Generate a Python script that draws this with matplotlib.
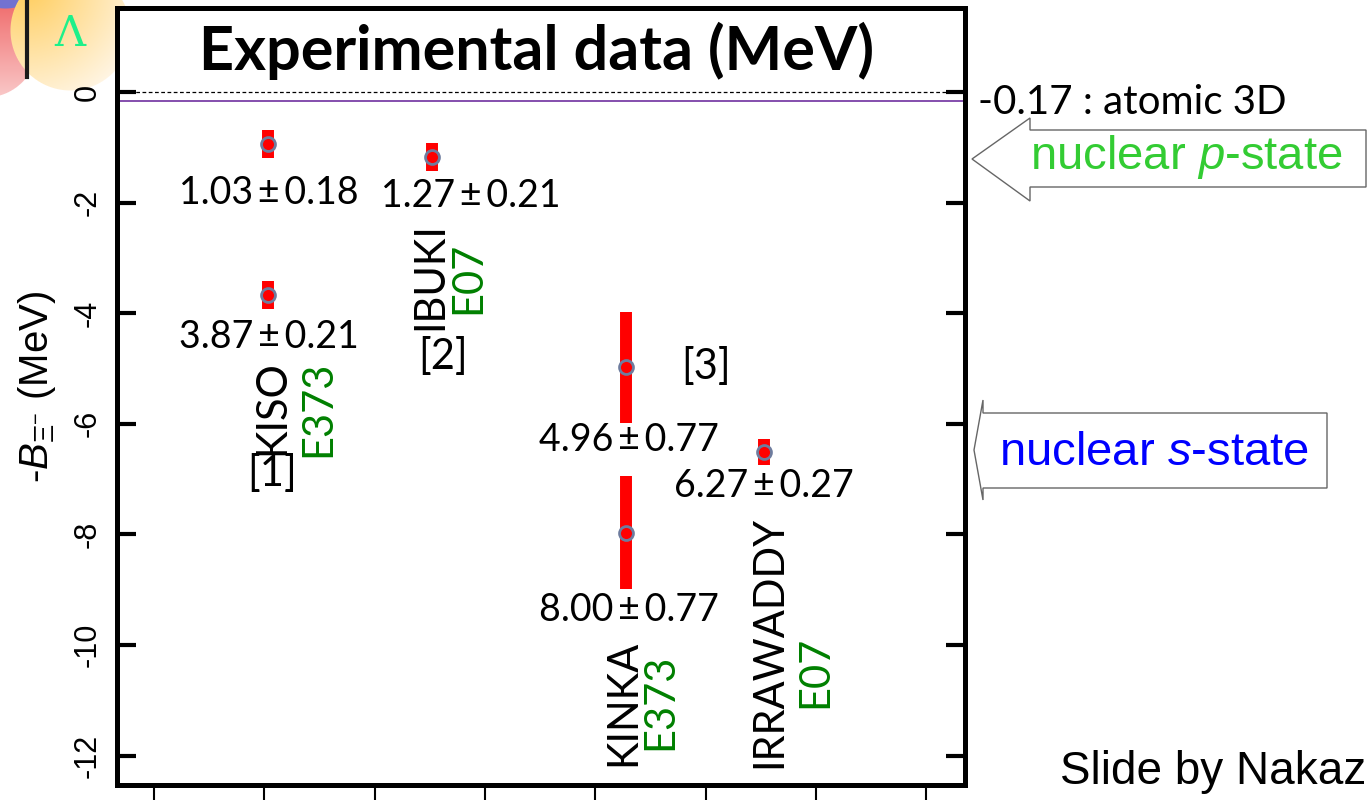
import matplotlib
matplotlib.use("Agg")
import matplotlib.pyplot as plt
from matplotlib.patches import Polygon
import numpy as np

plt.rcParams['axes.unicode_minus'] = False
plt.rcParams['mathtext.fontset'] = 'custom'
plt.rcParams['mathtext.rm'] = 'Liberation Sans'
plt.rcParams['mathtext.it'] = 'Liberation Sans:italic'

# ---- data ----
names = ["KISO", "KISO", "IBUKI", "KINKA", "KINKA", "IRRAWADDY"]
x_pos = [1.03, 1.03, 2.52, 4.28, 4.28, 5.53]
y_val = [-0.94, -3.67, -1.18, -4.98, -7.97, -6.51]
y_err = [0.25, 0.25, 0.25, 1.0, 1.02, 0.24]
value_labels = ["1.03\u2009\u00b1\u20090.18", "3.87\u2009\u00b1\u20090.21",
                "1.27\u2009\u00b1\u20090.21", "4.96\u2009\u00b1\u20090.77",
                "8.00\u2009\u00b1\u20090.77", "6.27\u2009\u00b1\u20090.27"]
label_xy = [(1.04, -1.83), (1.04, -4.43), (2.87, -1.88),
            (4.30, -6.29), (4.30, -9.37), (5.53, -7.12)]
y_ticks = [0, -2, -4, -6, -8, -10, -12]
x_ticks = [0, 1, 2, 3, 4, 5, 6, 7]
atomic_level = -0.17

W, H = 1370, 802
fig = plt.figure(figsize=(W / 100, H / 100), dpi=100)


def fx(px):
    return px / W


def fy(py):
    return 1 - py / H


# --- slide decoration in the top-left corner (background image) ---
dh, dw = 100, 140
yy, xx = np.mgrid[0:dh, 0:dw].astype(float)
img = np.ones((dh, dw, 3))


def paint(cx, cy, r, col):
    d = np.hypot(xx - cx, yy - cy)
    a = np.clip(r - d + 0.5, 0, 1)[..., None]
    return img * (1 - a) + col * a


t_red = np.clip(yy / 100.0, 0, 1)[..., None]
red = np.array([0.94, 0.42, 0.42]) * (1 - t_red) + np.array([0.98, 0.80, 0.80]) * t_red
img = paint(-15, 45, 52, red)
img = paint(5, -38, 46, np.array([0.45, 0.45, 0.82]))
t_y = np.clip(np.hypot(xx - 25, yy + 15) / 130.0, 0, 1)[..., None]
yel = np.array([1.0, 0.80, 0.35]) * (1 - t_y) + np.array([1.0, 0.97, 0.92]) * t_y
img = paint(70, 30, 60, yel)
fig.figimage(img, xo=0, yo=H - dh, origin='upper', zorder=-1)

fig.lines.append(plt.Line2D([fx(27), fx(27)], [fy(0), fy(77)], transform=fig.transFigure,
                            color='#1a1a1a', lw=3))
fig.text(fx(70), fy(34), "\u039b", color='#1EF08A', fontsize=31,
         family='DejaVu Serif', ha='center', va='center')

ax = fig.add_axes([fx(117), fy(785), fx(965) - fx(117), fy(8) - fy(785)])
ax.set_xlim(-0.335, 7.35)
ax.set_ylim(-12.53, 1.52)

ax.axhline(0, color='black', lw=0.9, ls=(0, (3, 2)), zorder=1)
ax.axhline(atomic_level, color='#7030A0', lw=1.2, zorder=1)

ax.errorbar(x_pos, y_val, yerr=y_err, fmt='o', color='red', ecolor='red',
            elinewidth=8.6, capsize=0, markersize=10, markerfacecolor='red',
            markeredgecolor='#6E7C9E', markeredgewidth=2, zorder=3)

for lab, (lx, ly) in zip(value_labels, label_xy):
    ax.text(lx, ly, lab, fontsize=27, family=['Lato', 'DejaVu Sans'],
            ha='center', va='center')

name_font = dict(fontsize=30, family='Lato', rotation=90, ha='center', va='center')
ax.text(1.07, -5.70, "KISO", **name_font)
ax.text(1.49, -5.72, "E373", color='#008000', **name_font)
ax.text(1.07, -6.90, "[1]", fontsize=30, family='Lato', ha='center', va='center')
ax.text(2.50, -3.33, "IBUKI", **name_font)
ax.text(2.85, -3.36, "E07", color='#008000', **name_font)
ax.text(2.62, -4.79, "[2]", fontsize=30, family='Lato', ha='center', va='center')
ax.text(5.00, -4.97, "[3]", fontsize=30, family='Lato', ha='center', va='center')
ax.text(4.25, -11.05, "KINKA", **name_font)
ax.text(4.59, -11.02, "E373", color='#008000', **name_font)
ax.text(5.58, -9.95, "IRRAWADDY", **name_font)
ax.text(5.99, -10.48, "E07", color='#008000', **name_font)

fig.text(fx(537), fy(70), "Experimental data (MeV)",
         fontsize=44, fontweight='bold', family='Lato', ha='center', va='baseline')

ax.set_yticks(y_ticks)
ax.set_yticklabels([str(t) for t in y_ticks], rotation=90, va='center',
                   fontsize=22, family='Liberation Sans')
ax.set_xticks(x_ticks)
ax.set_xticklabels([])
ax.tick_params(axis='y', direction='in', length=14, width=3, pad=10,
               left=True, right=True)
ax.tick_params(axis='x', direction='out', length=11, width=1.5,
               bottom=True, top=False)
for s in ax.spines.values():
    s.set_linewidth(3.6)

ax.set_ylabel(r"-$B_{\Xi^{-}}$ (MeV)", fontsize=29, family='Liberation Sans')
ax.yaxis.set_label_coords((58 - 117) / 848, 0.512)

# --- right-hand annotations ---
fig.text(fx(978), fy(103), "-0.17 : atomic 3D", fontsize=29, family='Lato',
         ha='left', va='center')

p_arrow = [(972, 159), (1030, 118), (1030, 130), (1366, 130), (1366, 187),
           (1030, 187), (1030, 201)]
fig.patches.append(Polygon([(fx(a), fy(b)) for a, b in p_arrow], closed=True,
                           transform=fig.transFigure, facecolor='white',
                           edgecolor='#666666', lw=1.0))
fig.text(fx(1186), fy(157), r"nuclear $p$-state", color='#33CC33', fontsize=34,
         family='Liberation Sans', ha='center', va='center')

s_arrow = [(974, 450), (983, 400), (983, 413), (1327, 413), (1327, 488),
           (983, 488), (983, 500)]
fig.patches.append(Polygon([(fx(a), fy(b)) for a, b in s_arrow], closed=True,
                           transform=fig.transFigure, facecolor='white',
                           edgecolor='#666666', lw=1.0))
fig.text(fx(1154), fy(453), r"nuclear $s$-state", color='#0000FF', fontsize=34,
         family='Liberation Sans', ha='center', va='center')

fig.text(fx(1060), fy(784), "Slide by Nakaz", fontsize=33,
         family='Liberation Sans', ha='left', va='baseline')

fig.savefig("out.png", dpi=100)
